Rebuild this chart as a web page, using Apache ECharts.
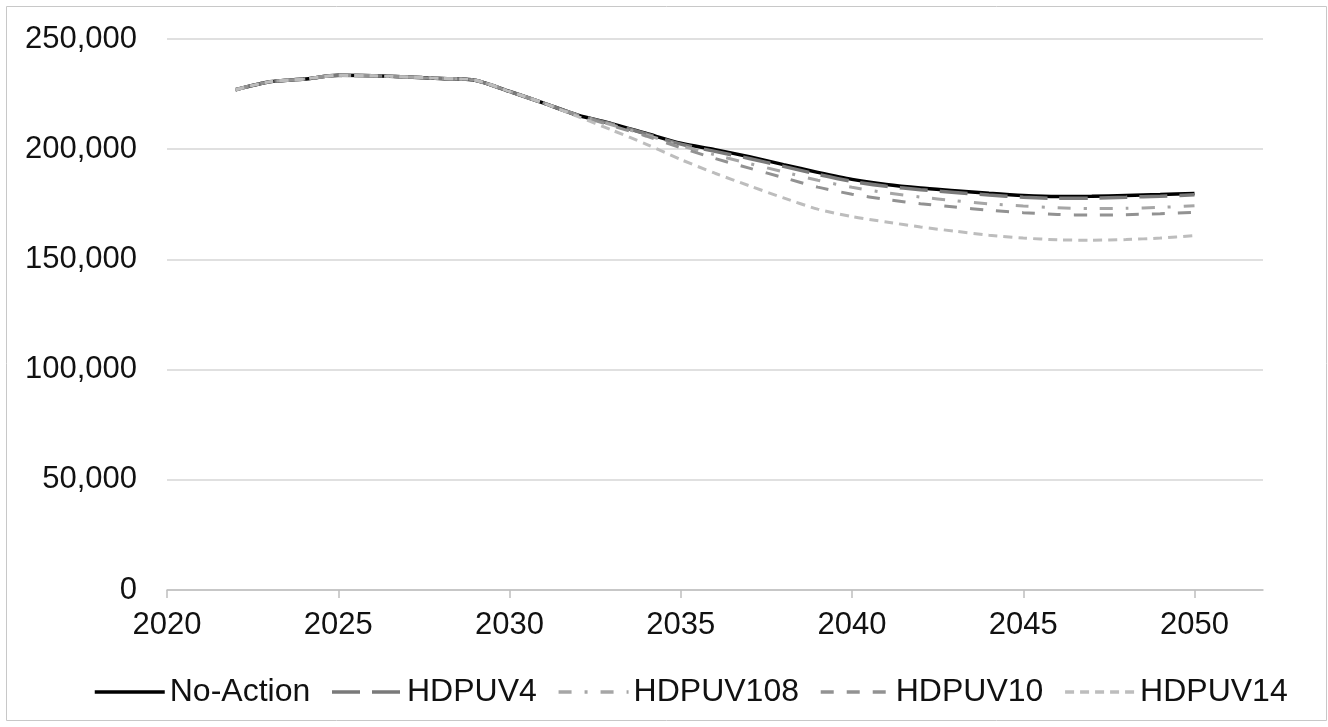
<!DOCTYPE html>
<html>
<head>
<meta charset="utf-8">
<script src="https://cdn.jsdelivr.net/npm/echarts@6/dist/echarts.min.js"></script>
<style>
html,body{margin:0;padding:0;background:#fff;}
#chart{width:1328px;height:727px;}
</style>
</head>
<body>
<div id="chart"></div>
<script>
const years = [2022,2023,2024,2025,2026,2027,2028,2029,2030,2031,2032,2033,2034,2035,2036,2037,2038,2039,2040,2041,2042,2043,2044,2045,2046,2047,2048,2049,2050];
const xTicks = [2020,2025,2030,2035,2040,2045,2050];
const seriesNames = ['No-Action','HDPUV4','HDPUV108','HDPUV10','HDPUV14'];
const noAction = [227000,230600,231800,233500,233300,232800,232100,231300,226200,220900,215400,211500,207100,202700,199800,196600,193000,189500,186300,184000,182400,181200,180000,179000,178500,178600,179000,179400,179900];
const hdpuv4   = [227000,230600,231800,233500,233300,232800,232100,231300,226200,220900,215400,211400,206900,202300,199000,195800,192200,188600,185400,183200,181600,180400,179200,178200,177700,177800,178200,178700,179300];
const hdpuv108 = [227000,230600,231800,233500,233300,232800,232100,231300,226200,220900,215400,211000,206500,201600,197400,193500,189700,185900,182700,180200,178300,176600,175200,174200,173400,173100,173200,173600,174300];
const hdpuv10  = [227000,230600,231800,233500,233300,232800,232100,231300,226200,220900,215400,210600,205900,200700,195800,191400,187100,182800,179600,177200,175300,173800,172300,171200,170400,170100,170300,170700,171300];
const hdpuv14  = [227000,230600,231800,233500,233300,232800,232100,231300,226200,220900,214800,208600,202200,195300,189100,183400,177900,172800,169400,167000,164700,162800,161000,159700,158900,158700,159000,159700,160800];

const values = [noAction, hdpuv4, hdpuv108, hdpuv10, hdpuv14];
const styles = [
  {color:'#000000', width:3.5, type:'solid'},
  {color:'#7a7a7a', width:3.5, type:[28,12]},
  {color:'#a6a6a6', width:3, type:[13,13,3,13]},
  {color:'#929292', width:3, type:[13,13]},
  {color:'#bdbdbd', width:3, type:[9,6]}
];
const FONT = "'Liberation Sans', Arial, sans-serif";

const chart = echarts.init(document.getElementById('chart'), null, {renderer:'canvas'});
chart.setOption({
  animation:false,
  backgroundColor:'#fff',
  graphic:[{type:'rect', shape:{x:6.5,y:6.5,width:1320,height:714}, style:{fill:'none', stroke:'#c8c8c8', lineWidth:1}, silent:true, z:-1}],
  grid:{left:167, right:65, top:39, bottom:137},
  legend:{
    left:88, top:671,
    itemWidth:70, itemHeight:14, itemGap:20,
    itemStyle:{opacity:0},
    lineStyle:{width:3.5},
    textStyle:{fontFamily:FONT, fontSize:32, color:'#111'},
    data:seriesNames
  },
  xAxis:{
    type:'value', min:2020, max:2052, interval:5,
    axisLine:{show:true, lineStyle:{color:'#bfbfbf', width:1.5}},
    axisTick:{show:true, length:8, inside:false, lineStyle:{color:'#bfbfbf', width:1.5}, customValues:xTicks},
    axisLabel:{fontFamily:FONT, fontSize:31, color:'#111', margin:20, customValues:xTicks, formatter:v=>String(v)},
    splitLine:{show:false}
  },
  yAxis:{
    type:'value', min:0, max:250000, interval:50000,
    axisLine:{show:false}, axisTick:{show:false},
    axisLabel:{fontFamily:FONT, fontSize:31, color:'#111', margin:30, formatter:v=>v.toLocaleString('en-US')},
    splitLine:{show:true, lineStyle:{color:'#d6d6d6', width:1.5}}
  },
  series: seriesNames.map((name,k)=>({
    name:name, type:'line', symbol:'none', smooth:0.25,
    data: years.map((y,i)=>[y, values[k][i]]),
    lineStyle:{color:styles[k].color, width:styles[k].width, type:styles[k].type},
    itemStyle:{color:styles[k].color},
    z: 2 + k
  }))
});
</script>
</body>
</html>
